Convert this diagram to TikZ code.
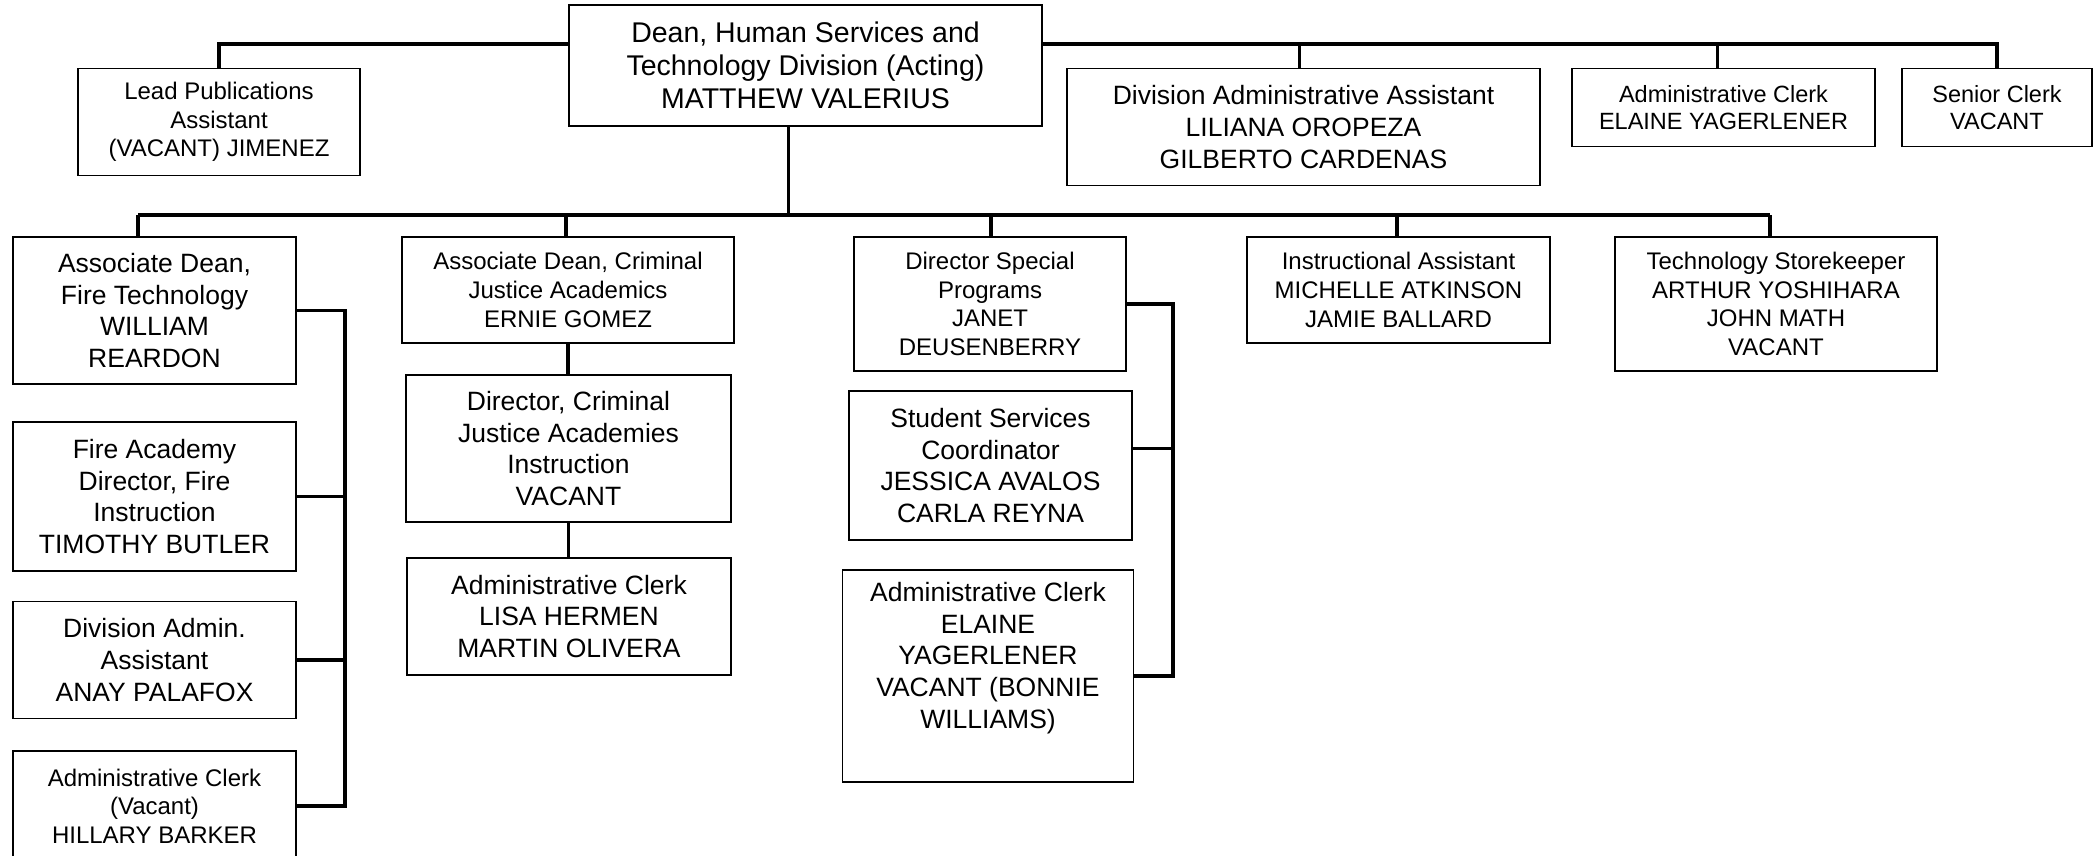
\documentclass[tikz,border=0pt]{standalone}
\usepackage{fontspec}
\setmainfont{Liberation Sans}
\usetikzlibrary{backgrounds,calc}
\begin{document}
\begin{tikzpicture}[x=1pt,y=-1pt,
  box/.style={draw, line width=1.8pt, fill=white, inner sep=0pt, align=center},
  fsA/.style={font=\fontsize{24}{28.6}\selectfont},
  fsB/.style={font=\fontsize{26.5}{31.8}\selectfont},
  fsC/.style={font=\fontsize{23.5}{27}\selectfont},
  fsD/.style={font=\fontsize{28.5}{33}\selectfont},
  conn/.style={line width=3.4pt}]
\useasboundingbox (0,0) rectangle (2100,856);

% top row
\node[box,fsD,minimum width=473pt,minimum height=121pt] (dean) at (805.5,65.5)
  {Dean, Human Services and\\Technology Division (Acting)\\MATTHEW VALERIUS};
\node[box,fsA,minimum width=282pt,minimum height=107pt] (lead) at (219,122)
  {Lead Publications\\Assistant\\(VACANT) JIMENEZ};
\node[box,fsB,minimum width=473pt,minimum height=117pt] (divadmin) at (1303.5,127)
  {Division Administrative Assistant\\LILIANA OROPEZA\\GILBERTO CARDENAS};
\node[box,fsC,minimum width=303pt,minimum height=78pt] (aclerk) at (1723.5,107.5)
  {Administrative Clerk\\ELAINE YAGERLENER};
\node[box,fsC,minimum width=190pt,minimum height=78pt] (sclerk) at (1997,107.5)
  {Senior Clerk\\VACANT};

% second row
\node[box,fsB,minimum width=283pt,minimum height=147pt] (adfire) at (154.5,310.5)
  {Associate Dean,\\Fire Technology\\WILLIAM\\REARDON};
\node[box,fsB,minimum width=283pt,minimum height=149pt] (fa) at (154.5,496.5)
  {Fire Academy\\Director, Fire\\Instruction\\TIMOTHY BUTLER};
\node[box,fsB,minimum width=283pt,minimum height=117pt] (da) at (154.5,660)
  {Division Admin.\\Assistant\\ANAY PALAFOX};
\node[box,fsA,minimum width=283pt,minimum height=110pt] (ac) at (154.5,806)
  {Administrative Clerk\\(Vacant)\\HILLARY BARKER};

\node[box,fsA,minimum width=332pt,minimum height=106pt] (adcrim) at (568,290)
  {Associate Dean, Criminal\\Justice Academics\\ERNIE GOMEZ};
\node[box,fsB,minimum width=325pt,minimum height=147pt] (dc) at (568.5,448.5)
  {Director, Criminal\\Justice Academies\\Instruction\\VACANT};
\node[box,fsB,minimum width=324pt,minimum height=117pt] (alisa) at (569,616.5)
  {Administrative Clerk\\LISA HERMEN\\MARTIN OLIVERA};

\node[box,fsA,minimum width=272pt,minimum height=134pt] (dsp) at (990,304)
  {Director Special\\Programs\\JANET\\DEUSENBERRY};
\node[box,fsB,minimum width=283pt,minimum height=149pt] (ss) at (990.5,465.5)
  {Student Services\\Coordinator\\JESSICA AVALOS\\CARLA REYNA};
\node[box,fsB,minimum width=291pt,minimum height=212pt] (ae) at (988,676)
  {Administrative Clerk\\ELAINE\\YAGERLENER\\VACANT (BONNIE\\WILLIAMS)\\\strut};

\node[box,fsA,minimum width=303pt,minimum height=106pt] (ia) at (1398.5,290)
  {Instructional Assistant\\MICHELLE ATKINSON\\JAMIE BALLARD};
\node[box,fsA,minimum width=322pt,minimum height=134pt] (ts) at (1776,304)
  {Technology Storekeeper\\ARTHUR YOSHIHARA\\JOHN MATH\\VACANT};

\coordinate (t) at (0,44);
\coordinate (d1) at (138,215);
\coordinate (d2) at (566,215);
\coordinate (d3) at (991,215);
\coordinate (d4) at (1397,215);
\coordinate (d5) at (1770,215);
\coordinate (fb) at (345,0);
\coordinate (sb) at (1173,0);

\begin{scope}[on background layer]
\fill[white] (0,0) rectangle (2100,856);
% top bus
\draw[conn] (lead.north) |- (sclerk.north |- t) -- (sclerk.north);
\draw[conn] ([xshift=-4pt]divadmin.north) -- ([xshift=-4pt]divadmin.north |- t);
\draw[conn] ([xshift=-6pt]aclerk.north) -- ([xshift=-6pt]aclerk.north |- t);
% dean to second bus
\draw[conn] ([xshift=-17pt]dean.south) -- ([xshift=-17pt]dean.south |- d1);
\draw[conn] (d1) -- (d5);
\draw[conn] (d1) -- (adfire.north -| d1);
\draw[conn] (d2) -- (adcrim.north -| d2);
\draw[conn] (d3) -- (dsp.north -| d3);
\draw[conn] (d4) -- (ia.north -| d4);
\draw[conn] (d5) -- (ts.north -| d5);
% fire bracket
\draw[conn] (adfire.east) -| (ac.east -| fb) -- (ac.east);
\draw[conn] (fa.east) -- (fa.east -| fb);
\draw[conn] (da.east) -- (da.east -| fb);
% criminal chain
\draw[conn] (adcrim.south) -- (adcrim.south |- dc.north);
\draw[conn] (dc.south) -- (dc.south |- alisa.north);
% special programs bracket
\draw[conn] (dsp.east) -| (ae.east -| sb) -- (ae.east);
\draw[conn] ([yshift=17pt]ss.east) -- ([yshift=17pt]ss.east -| sb);
\end{scope}
\end{tikzpicture}
\end{document}
